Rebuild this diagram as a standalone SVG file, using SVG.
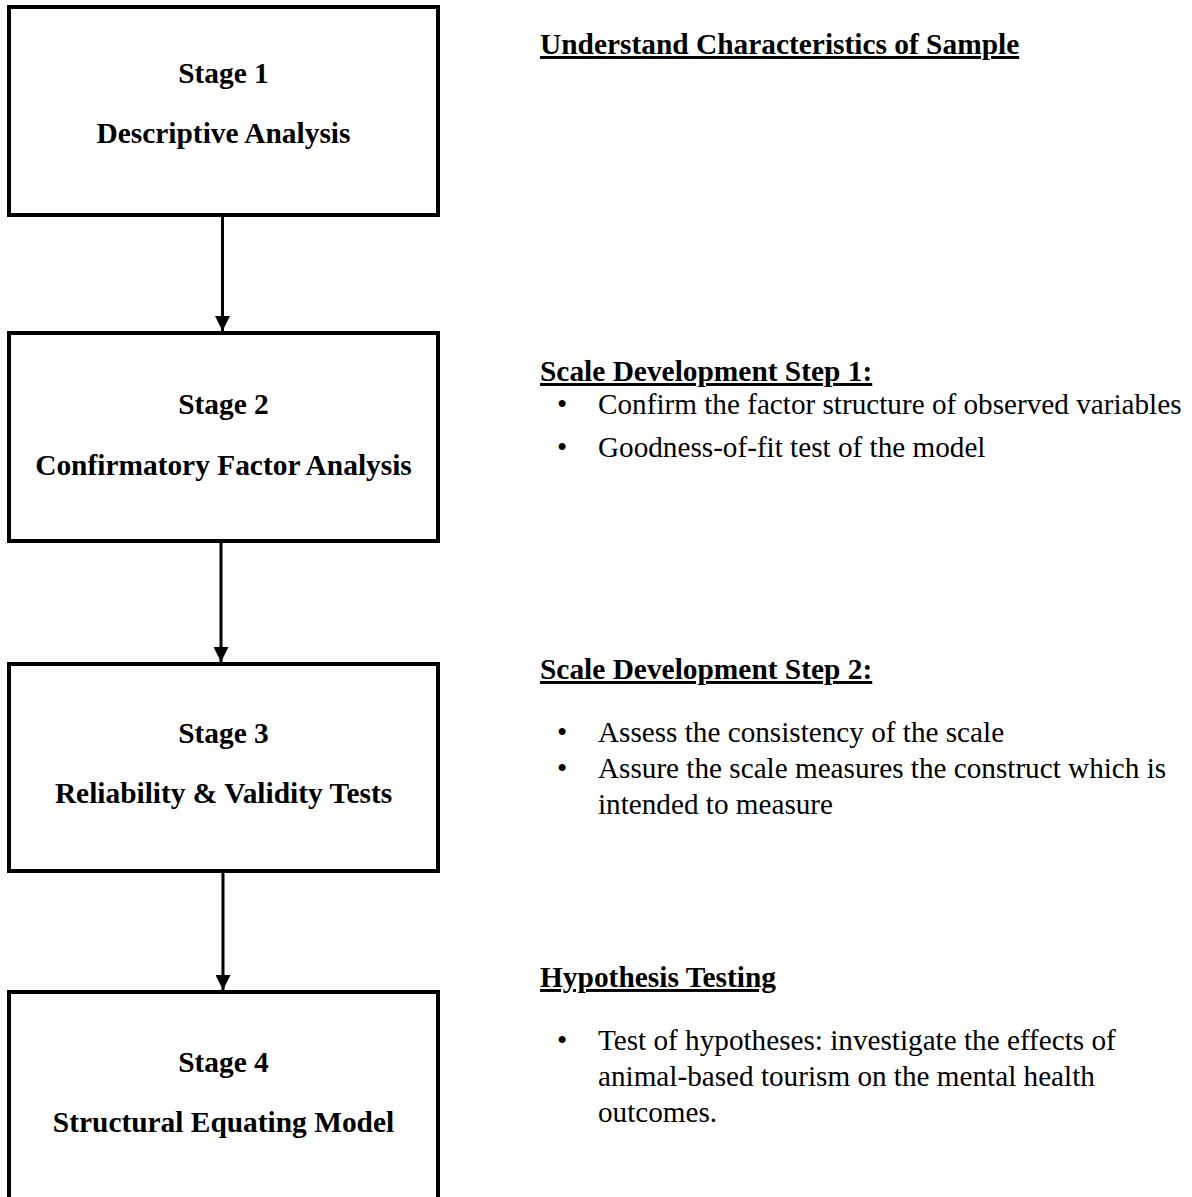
<svg xmlns="http://www.w3.org/2000/svg" width="1192" height="1197" viewBox="0 0 1192 1197">
  <defs>
    <style>
      .box { fill: #ffffff; stroke: #000000; stroke-width: 4; }
      .stage { font-family: "Liberation Serif", "Times New Roman", serif; font-size: 29.4px; font-weight: bold; fill: #000000; text-anchor: middle; }
      .head { font-family: "Liberation Serif", "Times New Roman", serif; font-size: 29.4px; font-weight: bold; fill: #000000; text-decoration: underline; text-decoration-thickness: 2.5px; text-underline-offset: 3px; }
      .body { font-family: "Liberation Serif", "Times New Roman", serif; font-size: 29.2px; fill: #000000; }
      .conn { stroke: #000000; stroke-width: 3; fill: none; }
      .head-tri { fill: #000000; }
    </style>
    <marker id="arrow" viewBox="0 0 15 15" refX="15" refY="7.5" markerWidth="15" markerHeight="15" markerUnits="userSpaceOnUse" orient="auto">
      <path d="M0,0 L15,7.5 L0,15 Z" class="head-tri"/>
    </marker>
  </defs>
  <rect width="1192" height="1197" fill="#ffffff"/>

  <!-- Stage boxes -->
  <g id="stage1">
    <rect class="box" x="9" y="7" width="429" height="208"/>
    <text class="stage" x="223.5" y="83">Stage 1</text>
    <text class="stage" x="223.5" y="143">Descriptive Analysis</text>
  </g>
  <g id="stage2">
    <rect class="box" x="9" y="333" width="429" height="208"/>
    <text class="stage" x="223.5" y="414">Stage 2</text>
    <text class="stage" x="223.5" y="475">Confirmatory Factor Analysis</text>
  </g>
  <g id="stage3">
    <rect class="box" x="9" y="664" width="429" height="207"/>
    <text class="stage" x="223.5" y="743">Stage 3</text>
    <text class="stage" x="223.5" y="803">Reliability &amp; Validity Tests</text>
  </g>
  <g id="stage4">
    <rect class="box" x="9" y="992" width="429" height="230"/>
    <text class="stage" x="223.5" y="1072">Stage 4</text>
    <text class="stage" x="223.5" y="1132">Structural Equating Model</text>
  </g>

  <!-- Connectors between stages -->
  <g id="connectors">
    <line class="conn" x1="222.5" y1="217" x2="222.5" y2="331" marker-end="url(#arrow)"/>
    <line class="conn" x1="221" y1="543" x2="221" y2="662" marker-end="url(#arrow)"/>
    <line class="conn" x1="223" y1="873" x2="223" y2="990" marker-end="url(#arrow)"/>
  </g>

  <!-- Descriptions beside each stage -->
  <g id="desc1">
    <text class="head" x="540" y="54">Understand Characteristics of Sample</text>
  </g>
  <g id="desc2">
    <text class="head" x="540" y="381">Scale Development Step 1:</text>
    <text class="body" x="557" y="414">•</text>
    <text class="body" x="598" y="414">Confirm the factor structure of observed variables</text>
    <text class="body" x="557" y="457">•</text>
    <text class="body" x="598" y="457">Goodness-of-fit test of the model</text>
  </g>
  <g id="desc3">
    <text class="head" x="540" y="679">Scale Development Step 2:</text>
    <text class="body" x="557" y="742">•</text>
    <text class="body" x="598" y="742">Assess the consistency of the scale</text>
    <text class="body" x="557" y="778">•</text>
    <text class="body" x="598" y="778">Assure the scale measures the construct which is</text>
    <text class="body" x="598" y="814">intended to measure</text>
  </g>
  <g id="desc4">
    <text class="head" x="540" y="987">Hypothesis Testing</text>
    <text class="body" x="557" y="1050">•</text>
    <text class="body" x="598" y="1050">Test of hypotheses: investigate the effects of</text>
    <text class="body" x="598" y="1086">animal-based tourism on the mental health</text>
    <text class="body" x="598" y="1122">outcomes.</text>
  </g>
</svg>
